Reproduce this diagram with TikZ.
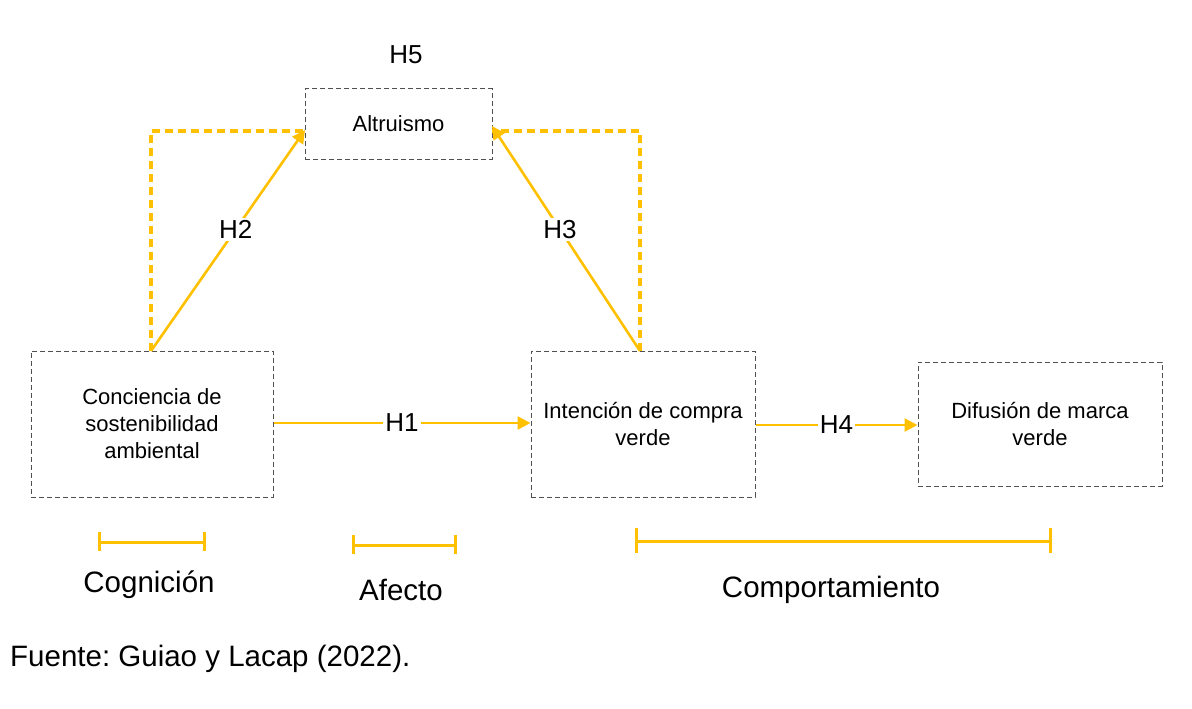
\documentclass[tikz,border=0pt]{standalone}
\usepackage{fontspec}
\setmainfont{Liberation Sans}
\usetikzlibrary{arrows.meta,calc}
\definecolor{gold}{HTML}{FFC000}
\definecolor{boxgray}{HTML}{505050}
\frenchspacing
\tikzset{
  construct/.style={draw=boxgray, dashed, dash pattern=on 5pt off 3pt, line width=1pt,
    inner sep=0pt, align=center, font=\fontsize{22}{27}\selectfont},
  link/.style={draw=gold, line width=2.6pt, -{Triangle[length=13pt,width=13pt]}},
  mediate/.style={draw=gold, line width=3.6pt, dash pattern=on 8pt off 5pt},
  hlabel/.style={fill=white, inner sep=2pt, font=\fontsize{26}{30}\selectfont},
  stage/.style={draw=gold, line width=3pt},
  stagelabel/.style={font=\fontsize{29.5}{34}\selectfont},
}
\begin{document}
\begin{tikzpicture}[x=1pt,y=-1pt]
\useasboundingbox (0,0) rectangle (1192,709);

% constructs
\node[construct, minimum width=187pt, minimum height=70pt] (alt) at (398.5,124) {Altruismo};
\node[construct, minimum width=242pt, minimum height=146pt] (cons) at (152,424)
  {Conciencia de\\sostenibilidad\\ambiental};
\node[construct, minimum width=224pt, minimum height=146pt] (int) at (643,424)
  {Intención de compra\\verde};
\node[construct, minimum width=244pt, minimum height=124pt] (dif) at (1040,424)
  {Difusión de marca\\verde};

\node[font=\fontsize{26}{30}\selectfont] (h5) at (406,55) {H5};

% mediation paths through altruism
\coordinate (cTop) at (151,351);
\coordinate (iTop) at (640,351);
\coordinate (aLeft) at (305,131);
\coordinate (aRight) at (492,131);
\draw[mediate] (cTop) |- (aLeft);
\draw[mediate] (iTop) |- (aRight);

% direct hypotheses
\coordinate (h2tip) at (305,130);
\coordinate (h3tip) at (492,126);
\draw[link] (cTop) -- node[hlabel, pos=0.55] (h2) {H2} (h2tip);
\draw[link] (iTop) -- node[hlabel, pos=0.54] (h3) {H3} (h3tip);
\draw[link] (cons.east |- 0,423) -- node[hlabel, pos=0.5] (h1) {H1} (int.west |- 0,423);
\draw[link] (int.east |- 0,425) -- node[hlabel, pos=0.5] (h4) {H4} (dif.west |- 0,425);

% stages of the model
\coordinate (cogA) at (99,542);  \coordinate (cogB) at (204,542);
\coordinate (afeA) at (353,545); \coordinate (afeB) at (455,545);
\coordinate (comA) at (636,541); \coordinate (comB) at (1050,541);
\draw[stage] (cogA) -- (cogB);
\draw[stage] ($(cogA)+(0,-10)$) -- ($(cogA)+(0,9)$);
\draw[stage] ($(cogB)+(0,-10)$) -- ($(cogB)+(0,9)$);
\draw[stage] (afeA) -- (afeB);
\draw[stage] ($(afeA)+(0,-10)$) -- ($(afeA)+(0,9)$);
\draw[stage] ($(afeB)+(0,-10)$) -- ($(afeB)+(0,9)$);
\draw[stage] (comA) -- (comB);
\draw[stage] ($(comA)+(0,-13)$) -- ($(comA)+(0,12)$);
\draw[stage] ($(comB)+(0,-13)$) -- ($(comB)+(0,12)$);

\node[stagelabel] (cog) at (149,585) {Cognición};
\node[stagelabel] (afe) at (401,590) {Afecto};
\node[stagelabel] (com) at (831,590) {Comportamiento};

\node[stagelabel, anchor=west, inner sep=0pt] (src) at (10,659) {Fuente: Guiao y Lacap (2022).};
\end{tikzpicture}
\end{document}
